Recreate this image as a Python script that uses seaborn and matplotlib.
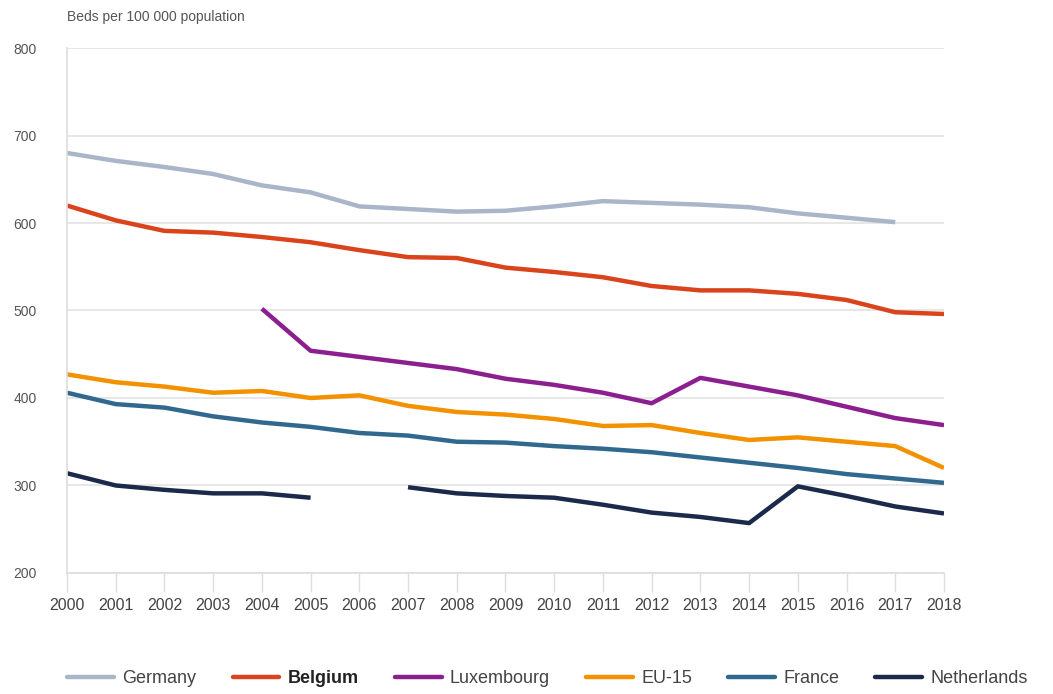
import numpy as np
import pandas as pd
import matplotlib
matplotlib.use("Agg")
import matplotlib.pyplot as plt
from matplotlib.lines import Line2D
import seaborn as sns

years = list(range(2000, 2019))
germany = [680, 671, 664, 656, 643, 635, 619, 616, 613, 614, 619, 625, 623, 621, 618, 611, 606, 601, np.nan]
belgium = [620, 603, 591, 589, 584, 578, 569, 561, 560, 549, 544, 538, 528, 523, 523, 519, 512, 498, 496]
luxembourg = [np.nan, np.nan, np.nan, np.nan, 502, 454, 447, 440, 433, 422, 415, 406, 394, 423, 413, 403, 390, 377, 369]
eu15 = [427, 418, 413, 406, 408, 400, 403, 391, 384, 381, 376, 368, 369, 360, 352, 355, 350, 345, 320]
france = [406, 393, 389, 379, 372, 367, 360, 357, 350, 349, 345, 342, 338, 332, 326, 320, 313, 308, 303]
netherlands = [314, 300, 295, 291, 291, 286, np.nan, 298, 291, 288, 286, 278, 269, 264, 257, 299, 288, 276, 268]

countries = ["Germany", "Belgium", "Luxembourg", "EU-15", "France", "Netherlands"]
series = [germany, belgium, luxembourg, eu15, france, netherlands]
colors = ["#a9b5c9", "#d9441c", "#8c1f8f", "#f39200", "#31698e", "#1b2a4a"]
yticks = [200, 300, 400, 500, 600, 700, 800]

rows = []
for c, vals in zip(countries, series):
    seg = 0
    for y, v in zip(years, vals):
        if np.isnan(v):
            seg += 1
            continue
        rows.append({"year": y, "value": v, "country": c, "seg": seg})
df = pd.DataFrame(rows)

sns.set_theme(style="white")
plt.rcParams['font.family'] = ['Liberation Sans', 'DejaVu Sans']

fig = plt.figure(figsize=(10.53, 6.94), dpi=100)
ax = fig.add_axes([0.0636, 0.1744, 0.8329, 0.7564])

palette = dict(zip(countries, colors))
sns.lineplot(data=df, x="year", y="value", hue="country", units="seg", estimator=None,
             palette=palette, hue_order=countries, linewidth=3.2, ax=ax, legend=False,
             solid_capstyle="butt")

ax.set_xlim(2000, 2018)
ax.set_ylim(200, 800)
ax.set_yticks(yticks)
ax.set_xticks(years)
ax.set_xticklabels([str(y) for y in years], fontsize=11.5, color="#444444")
ax.set_yticklabels([str(v) for v in yticks], fontsize=10, color="#555555")
ax.grid(axis="y", color="#e3e3e3", linewidth=1.2)
ax.set_axisbelow(True)
for s in ["top", "right"]:
    ax.spines[s].set_visible(False)
for s in ["left", "bottom"]:
    ax.spines[s].set_color("#dddddd")
    ax.spines[s].set_linewidth(1.2)
ax.tick_params(axis="x", bottom=True, length=14, width=1, color="#dddddd", pad=4)
ax.tick_params(axis="y", left=False, pad=16)
ax.set_xlabel("")
ax.set_ylabel("")

fig.text(0.0636, 0.975, "Beds per 100 000 population", fontsize=10, color="#555555",
         ha="left", va="center")

handles = [Line2D([0], [0], color=col, lw=3.2) for col in colors]
leg = fig.legend(handles, countries, loc="center", bbox_to_anchor=(0.52, 0.022), ncol=6,
                 frameon=False, fontsize=13, handlelength=2.6, columnspacing=2.0, handletextpad=0.45)
for t in leg.get_texts():
    t.set_color("#444444")
    if t.get_text() == "Belgium":
        t.set_fontweight("bold")
        t.set_color("#222222")

fig.savefig("out.png", dpi=100)
